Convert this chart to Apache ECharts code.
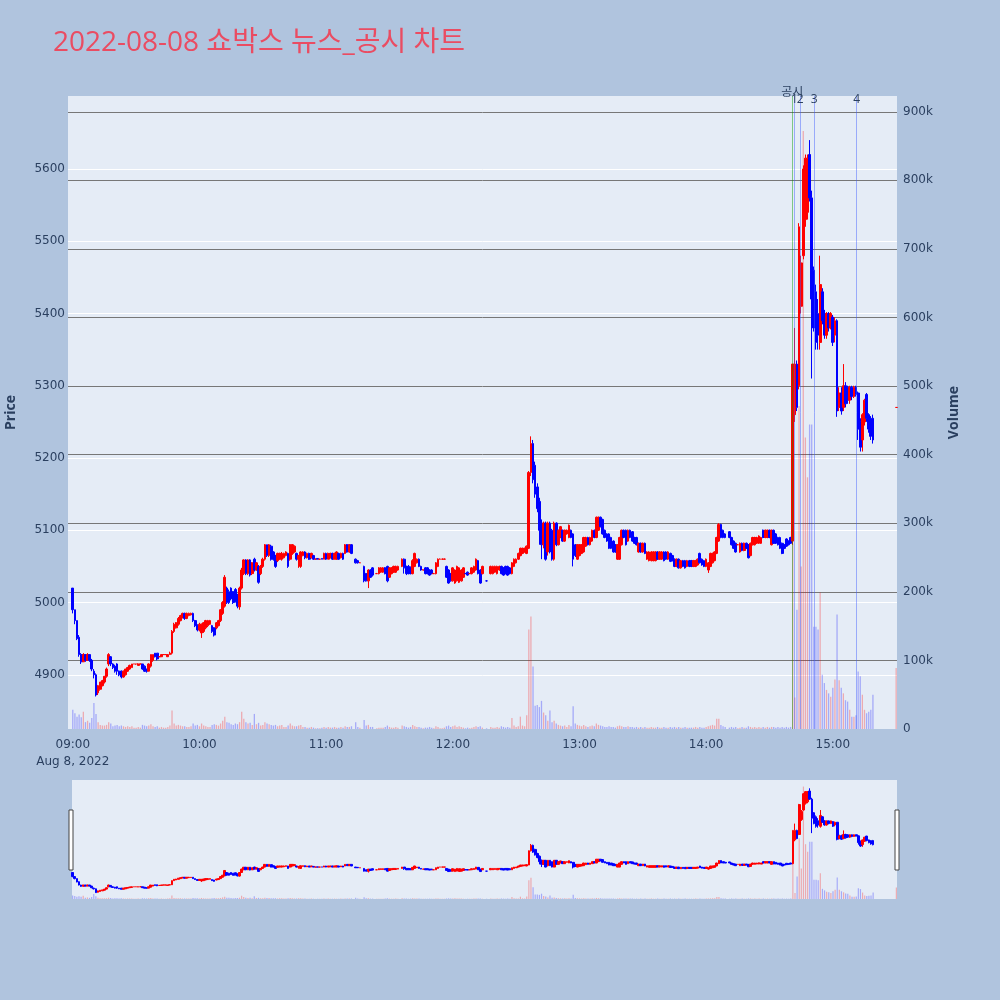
<!DOCTYPE html>
<html><head><meta charset="utf-8">
<script src="https://cdn.jsdelivr.net/npm/echarts@6/dist/echarts.min.js"></script>
<style>html,body{margin:0;padding:0;background:#b0c4de}#c{width:1000px;height:1000px}</style>
</head><body><div id="c"></div>
<script>
const chartTitle = '2022-08-08 쇼박스 뉴스_공시 차트';
// one row per minute: [open, close, low, high, volume (k shares)], null = no trade
const h09 = [
[5020,4990,4985,5020,28],[4990,4975,4970,4990,23],[4975,4950,4948,4975,18],[4952,4928,4925,4955,21],[4928,4918,4915,4930,17],
[4918,4928,4918,4930,25],[4928,4920,4918,4928,10],[4920,4928,4920,4930,12],[4928,4920,4918,4928,9],[4920,4908,4905,4922,16],
[4905,4900,4895,4908,38],[4900,4872,4870,4902,22],[4875,4885,4872,4886,10],[4880,4890,4878,4890,6],[4885,4892,4884,4893,5],
[4890,4898,4888,4898,5],[4898,4908,4896,4910,6],[4915,4928,4912,4930,10],[4925,4915,4912,4926,8],[4915,4910,4908,4916,4],
[4912,4905,4903,4914,5],[4915,4905,4900,4916,6],[4905,4900,4898,4906,4],[4905,4897,4895,4906,5],[4897,4905,4896,4906,4],
[4900,4908,4899,4908,3],[4905,4910,4904,4911,4],[4908,4913,4907,4914,3],[4910,4915,4910,4915,4],[4915,4915,4915,4915,2],
[4915,4915,4914,4915,2],[4913,4915,4913,4916,3],[4915,4915,4915,4915,2],[4915,4908,4907,4915,6],[4912,4905,4904,4913,5],
[4908,4905,4903,4908,4],[4905,4915,4905,4916,5],[4912,4928,4910,4928,7],[4920,4928,4918,4928,4],[4930,4925,4924,4930,3],
[4930,4922,4920,4930,4],[4925,4925,4925,4926,2],[4925,4928,4925,4928,3],[4928,4928,4928,4928,2],[4928,4928,4928,4928,2],
[4925,4928,4925,4928,3],[4928,4930,4928,4932,5],[4930,4960,4928,4962,27],[4960,4970,4958,4972,8],[4965,4972,4964,4973,5],
[4970,4978,4968,4980,6],[4975,4982,4974,4983,5],[4980,4985,4978,4986,4],[4985,4978,4976,4986,4],[4978,4985,4977,4986,3],
[4982,4985,4981,4986,3],[4983,4985,4982,4986,4],[4985,4975,4973,4986,8],[4975,4968,4966,4976,5],[4968,4962,4960,4970,6]
];
const h10 = [
[4962,4970,4960,4972,4],[4958,4970,4951,4971,8],[4960,4972,4958,4973,5],[4965,4975,4963,4976,4],[4968,4975,4966,4976,3],
[4970,4975,4969,4976,3],[4968,4960,4958,4969,6],[4965,4955,4953,4966,7],[4965,4972,4963,4973,6],[4968,4975,4967,4976,5],
[4975,4990,4973,4991,8],[4985,5000,4983,5002,12],[4995,5035,4993,5038,18],[5020,5000,4998,5022,10],[5015,5000,4998,5018,9],
[5020,5005,5003,5021,7],[5015,5000,4998,5016,6],[5018,5002,5000,5020,8],[5010,4995,4992,5012,7],[4994,5020,4990,5022,10],
[5020,5045,5018,5048,25],[5040,5059,5038,5060,15],[5059,5040,5038,5060,10],[5040,5059,5038,5060,8],[5059,5038,5036,5060,9],
[5040,5055,5038,5056,6],[5060,5045,5043,5062,22],[5045,5055,5044,5056,7],[5050,5028,5026,5052,9],[5040,5050,5038,5052,5],
[5050,5060,5048,5062,6],[5060,5080,5058,5081,10],[5080,5065,5063,5080,8],[5065,5080,5063,5081,7],[5078,5060,5058,5080,6],
[5070,5060,5058,5071,5],[5065,5050,5048,5066,6],[5058,5068,5056,5069,4],[5060,5068,5059,5069,5],[5060,5068,5058,5070,6],
[5062,5068,5061,5069,3],[5065,5070,5064,5071,3],[5068,5050,5048,5069,5],[5060,5080,5058,5081,8],[5068,5080,5066,5081,5],
[5070,5078,5069,5079,4],[5068,5060,5058,5069,4],[5060,5065,5048,5066,5],[5050,5070,5048,5071,6],[5065,5070,5064,5071,3],
[5070,5062,5060,5071,3],[5062,5068,5061,5069,2],[5068,5060,5059,5069,2],[5062,5068,5061,5069,3],[5065,5060,5059,5066,2],
[5060,5060,5060,5061,1],[5061,5060,5060,5061,1],[5060,5060,5060,5060,1],[5061,5060,5060,5061,2],[5060,5068,5060,5069,3]
];
const h11 = [
[5068,5060,5059,5069,2],[5060,5068,5060,5069,3],[5062,5068,5061,5069,2],[5068,5060,5059,5069,2],[5060,5068,5060,5069,3],
[5060,5070,5059,5071,2],[5068,5060,5059,5069,2],[5062,5068,5061,5069,3],[5068,5060,5059,5069,2],[5068,5080,5067,5081,4],
[5080,5070,5069,5081,3],[5070,5080,5069,5081,3],[5080,5068,5067,5081,4],null,[5060,5055,5054,5061,10],
[5058,5055,5054,5059,3],[5055,5055,5055,5056,2],null,[5050,5030,5028,5051,13],[5040,5030,5029,5041,5],
[5030,5045,5020,5046,6],[5045,5035,5034,5046,3],[5048,5038,5036,5049,3],null,[5040,5040,5040,5041,1],
[5040,5048,5039,5049,2],[5042,5048,5041,5049,2],[5042,5048,5041,5049,2],[5048,5040,5039,5049,3],[5050,5030,5028,5051,5],
[5035,5048,5034,5049,3],[5040,5048,5039,5049,2],[5042,5050,5041,5051,2],[5042,5050,5041,5051,3],[5045,5050,5044,5051,2],
null,[5050,5060,5049,5061,5],[5060,5048,5040,5061,4],[5050,5040,5038,5051,3],[5050,5040,5039,5052,2],
[5048,5040,5039,5050,3],[5040,5058,5039,5060,6],[5050,5068,5049,5069,4],[5055,5060,5054,5061,3],[5060,5050,5049,5061,3],
[5050,5045,5044,5051,2],[5045,5045,5045,5046,1],[5048,5040,5039,5049,2],[5048,5040,5039,5049,2],[5045,5038,5037,5046,3],
[5045,5040,5039,5046,2],[5040,5040,5040,5041,1],[5040,5055,5039,5056,4],[5050,5060,5049,5061,3],[5060,5060,5060,5061,1],
[5060,5060,5060,5061,1],[5060,5060,5060,5061,2],[5050,5035,5034,5051,4],[5045,5027,5026,5046,5],[5040,5030,5029,5041,3]
];
const h12 = [
[5030,5048,5029,5049,4],[5027,5045,5026,5046,5],[5030,5050,5029,5051,3],[5028,5048,5027,5049,4],[5030,5045,5029,5046,3],
[5035,5048,5034,5049,2],[5040,5040,5040,5041,1],[5042,5038,5037,5043,2],[5040,5040,5040,5041,1],[5040,5048,5039,5049,2],
[5042,5050,5041,5051,3],[5045,5060,5044,5061,4],[5058,5040,5039,5059,3],[5045,5027,5026,5046,4],[5040,5050,5039,5051,2],
null,[5030,5030,5029,5031,1],null,[5040,5050,5039,5051,3],[5040,5050,5039,5051,2],
[5042,5050,5041,5051,2],[5040,5050,5039,5051,3],[5045,5050,5044,5051,2],[5050,5040,5039,5051,4],[5048,5038,5037,5049,3],
[5050,5040,5039,5051,2],[5050,5038,5037,5051,3],[5048,5040,5039,5049,2],[5040,5055,5039,5056,16],[5050,5060,5049,5061,5],
[5055,5060,5054,5061,3],[5060,5068,5059,5069,4],[5065,5075,5064,5076,18],[5068,5075,5067,5076,5],[5070,5075,5069,5076,4],
[5068,5078,5067,5079,20],[5075,5180,5074,5182,145],[5180,5220,5175,5230,164],[5220,5170,5165,5225,91],[5190,5150,5145,5195,34],
[5160,5130,5125,5165,35],[5140,5100,5080,5145,32],[5110,5080,5060,5115,41],[5080,5110,5075,5112,24],[5110,5060,5058,5112,20],
[5070,5110,5065,5112,12],[5110,5070,5068,5112,27],[5100,5060,5058,5102,10],[5060,5110,5058,5112,12],[5110,5080,5078,5111,8],
[5080,5100,5079,5101,6],[5090,5105,5089,5106,5],[5100,5085,5084,5101,4],[5085,5100,5084,5101,5],[5095,5100,5094,5101,3],
[5090,5107,5089,5108,6],[5100,5090,5089,5101,4],[5095,5060,5050,5096,33],[5080,5065,5063,5081,8],[5060,5080,5059,5081,6]
];
const h13 = [
[5065,5080,5064,5081,5],[5068,5080,5067,5081,4],[5070,5090,5069,5091,6],[5078,5090,5077,5091,4],[5090,5080,5079,5091,3],
[5080,5090,5079,5091,4],[5085,5100,5084,5101,5],[5100,5090,5089,5101,4],[5090,5118,5089,5119,8],[5100,5118,5099,5119,6],
[5118,5105,5104,5119,5],[5115,5095,5094,5116,4],[5100,5090,5089,5101,3],[5095,5085,5084,5096,3],[5095,5075,5074,5096,4],
[5090,5075,5074,5091,3],[5085,5070,5069,5086,3],[5080,5070,5069,5081,2],[5060,5080,5059,5081,4],[5060,5090,5059,5091,5],
[5080,5100,5079,5101,4],[5100,5090,5089,5101,3],[5100,5080,5079,5101,3],[5085,5100,5084,5101,4],[5100,5090,5089,5101,3],
[5098,5085,5084,5099,3],[5090,5082,5081,5091,2],[5090,5080,5079,5091,3],[5070,5082,5069,5083,2],[5082,5070,5069,5083,3],
[5070,5082,5069,5083,2],[5082,5068,5067,5083,3],[5060,5070,5059,5071,2],[5058,5070,5057,5071,2],[5058,5070,5057,5071,3],
[5058,5070,5057,5071,2],[5058,5070,5057,5071,2],[5070,5060,5059,5071,3],[5060,5070,5059,5071,2],[5060,5070,5059,5071,2],
[5070,5058,5057,5071,3],[5070,5060,5059,5071,2],[5060,5070,5059,5071,2],[5068,5057,5056,5069,3],[5065,5058,5057,5066,2],
[5060,5050,5049,5061,3],[5050,5060,5049,5061,2],[5060,5048,5047,5061,3],[5048,5058,5047,5059,2],[5058,5050,5049,5059,2],
[5058,5048,5047,5059,3],[5050,5058,5049,5059,2],[5058,5050,5049,5059,2],[5058,5050,5049,5059,2],[5050,5058,5049,5059,2],
[5050,5058,5049,5059,3],[5052,5060,5051,5061,2],[5068,5055,5054,5069,3],[5060,5052,5051,5061,2],[5058,5050,5049,5059,2]
];
const h14 = [
[5050,5060,5049,5061,3],[5045,5055,5041,5056,4],[5050,5068,5049,5069,5],[5055,5068,5054,5069,6],[5058,5070,5057,5071,5],
[5068,5090,5067,5091,15],[5085,5108,5084,5110,15],[5108,5090,5089,5109,6],[5100,5090,5089,5101,4],[5095,5090,5089,5096,3],
null,[5098,5090,5089,5099,2],[5090,5080,5079,5091,3],[5085,5075,5074,5086,2],[5082,5070,5069,5083,3],
[5080,5080,5080,5081,1],[5070,5082,5069,5083,2],[5082,5072,5071,5083,3],[5072,5082,5071,5083,2],[5082,5075,5074,5083,2],
[5080,5062,5061,5081,4],[5065,5082,5064,5083,3],[5080,5090,5079,5091,2],[5080,5090,5079,5091,3],[5082,5090,5081,5091,2],
[5082,5092,5081,5093,3],[5082,5090,5081,5091,2],[5100,5090,5089,5101,3],[5090,5100,5089,5101,2],[5090,5100,5089,5101,3],
[5100,5090,5089,5101,2],[5080,5100,5079,5101,3],[5100,5082,5081,5101,3],[5095,5082,5081,5096,2],[5090,5080,5079,5091,3],
[5090,5075,5074,5091,2],[5082,5068,5067,5083,3],[5080,5075,5074,5081,2],[5088,5078,5077,5089,3],[5085,5080,5079,5086,2],
[5090,5082,5081,5091,3],[5085,5330,5080,5330,270],[5260,5330,5250,5380,46],[5330,5270,5265,5335,174],[5300,5520,5295,5525,471],
[5410,5470,5400,5480,237],[5480,5600,5475,5605,872],[5530,5615,5520,5620,425],[5540,5615,5530,5620,367],[5620,5560,5555,5640,444],
[5560,5420,5310,5570,444],[5460,5380,5375,5465,149],[5430,5360,5350,5440,149],[5400,5370,5350,5420,145],[5360,5440,5350,5480,199],
[5430,5390,5385,5435,79],[5400,5370,5365,5405,67],[5370,5400,5365,5402,57],[5400,5380,5375,5402,52],[5380,5400,5378,5402,47]
];
const h15 = [
[5395,5360,5355,5398,60],[5370,5390,5360,5395,72],[5390,5265,5257,5392,167],[5270,5290,5265,5298,71],[5290,5265,5260,5298,60],
[5270,5300,5265,5330,52],[5300,5275,5270,5305,42],[5298,5280,5275,5300,40],[5280,5298,5275,5300,28],[5298,5285,5280,5300,18],
[5285,5298,5283,5300,18],[5298,5288,5285,5300,20],[5290,5240,5225,5292,84],[5250,5215,5209,5255,77],[5225,5260,5209,5262,50],
[5250,5280,5245,5282,28],[5288,5255,5250,5290,23],[5260,5240,5235,5262,25],[5255,5230,5225,5258,28],[5255,5225,5220,5260,50],
null,null,null,null,null,null,null,null,null,null,
[5270,5270,5270,5270,89]
];
const hourLabels = ['09:00','10:00','11:00','12:00','13:00','14:00','15:00'];
const dateLabel = 'Aug 8, 2022';
const priceTicks = [4900,5000,5100,5200,5300,5400,5500,5600];
const volumeTicks = [0,100,200,300,400,500,600,700,800,900];
const markerTimes = ['14:40:48','14:41:48','14:44:30','14:51:12','15:11:18'];
const markerLabels = ['공시','1','2','3','4'];
const markerColors = ['rgba(0,150,0,0.45)','rgba(60,90,255,0.45)','rgba(60,90,255,0.45)','rgba(60,90,255,0.45)','rgba(60,90,255,0.45)'];

const UP = '#ff0000', DOWN = '#0000ff';
const UPV = 'rgba(255,0,0,0.28)', DOWNV = 'rgba(0,0,255,0.28)';
const TICKFONT = 'DejaVu Sans, Verdana, sans-serif';
const toMin = s => { const p = s.split(':').map(Number); return (p[0]-9)*60 + p[1] + (p[2]||0)/60; };

const candles = [], vols = [];
let prevClose = null;
[h09,h10,h11,h12,h13,h14,h15].forEach((rows, hi) => rows.forEach((r, mi) => {
  if (!r) return;
  const t = hi*60 + mi;
  candles.push([t, r[0], r[1], r[2], r[3]]);
  const up = r[1] > r[0] || (r[1] === r[0] && (prevClose === null || prevClose <= r[1]));
  vols.push({value: [t, r[4]], itemStyle: {color: up ? UPV : DOWNV}});
  prevClose = r[1];
}));
const hourVals = hourLabels.map(toMin);

const candleStyle = {color: UP, color0: DOWN, borderColor: UP, borderColor0: DOWN, borderWidth: 1};
const markLines = {
  silent: true, symbol: 'none', animation: false,
  data: markerTimes.map((t, i) => ({
    xAxis: toMin(t),
    lineStyle: {color: markerColors[i], width: 1, type: 'solid'},
    label: {show: true, position: 'end', formatter: markerLabels[i], color: '#2a3f5f', fontSize: 12,
            fontFamily: 'Open Sans, Noto Sans CJK KR', distance: 0, offset: i === 0 ? [0, 3] : [0, 10]}
  }))
};

const chart = echarts.init(document.getElementById('c'), null, {renderer: 'canvas'});
chart.setOption({
  backgroundColor: '#b0c4de',
  animation: false,
  textStyle: {fontFamily: 'Open Sans, Noto Sans CJK KR, sans-serif'},
  title: {text: chartTitle, left: 48, top: 24,
          textStyle: {fontSize: 28, fontWeight: 'normal', color: '#ea4c62', fontFamily: 'Open Sans, Noto Sans CJK KR'}},
  grid: [
    {left: 68, right: 103, top: 96, bottom: 271, show: true, backgroundColor: '#e5ecf6', borderWidth: 0,
     containLabel: false, outerBoundsMode: 'none'},
    {left: 72, right: 103, top: 780, height: 119, show: true, backgroundColor: '#e5ecf6', borderWidth: 0,
     containLabel: false, outerBoundsMode: 'none'}
  ],
  xAxis: [
    {type: 'value', gridIndex: 0, min: -2.27, max: 390.4, splitLine: {show: false},
     axisLine: {show: false}, axisTick: {show: false},
     axisLabel: {customValues: hourVals, color: '#2a3f5f', fontSize: 12, fontFamily: TICKFONT, margin: 7, lineHeight: 17,
       formatter: v => { const i = hourVals.indexOf(v); return i === 0 ? hourLabels[0] + '\n' + dateLabel : (i > 0 ? hourLabels[i] : ''); }}},
    {type: 'value', gridIndex: 1, min: -0.3, max: 390.3, show: false}
  ],
  yAxis: [
    {type: 'value', gridIndex: 0, position: 'left', min: 4825, max: 5701,
     axisLine: {show: false}, axisTick: {show: false, customValues: priceTicks},
     axisLabel: {customValues: priceTicks, color: '#2a3f5f', fontSize: 12, fontFamily: TICKFONT, margin: 3, formatter: v => String(v)},
     splitLine: {show: true, lineStyle: {color: '#ffffff', width: 1}},
     name: 'Price', nameLocation: 'middle', nameGap: 50, nameRotate: 90,
     nameTextStyle: {fontWeight: 'bold', fontSize: 14, color: '#2a3f5f'}},
    {type: 'value', gridIndex: 0, position: 'right', min: 0, max: 923,
     axisLine: {show: false}, axisTick: {show: false, customValues: volumeTicks},
     axisLabel: {customValues: volumeTicks, color: '#2a3f5f', fontSize: 12, fontFamily: TICKFONT, margin: 6, formatter: v => v === 0 ? '0' : v + 'k'},
     splitLine: {show: true, showMinLine: false, lineStyle: {color: '#777777', width: 1}},
     name: 'Volume', nameLocation: 'middle', nameGap: 50, nameRotate: 90,
     nameTextStyle: {fontWeight: 'bold', fontSize: 14, color: '#2a3f5f'}},
    {type: 'value', gridIndex: 1, min: 4825, max: 5701, show: false, splitLine: {show: false}},
    {type: 'value', gridIndex: 1, min: 0, max: 923, show: false, splitLine: {show: false}}
  ],
  series: [
    {type: 'bar', xAxisIndex: 0, yAxisIndex: 1, data: vols, barWidth: 1.3, silent: true},
    {type: 'candlestick', xAxisIndex: 0, yAxisIndex: 0, data: candles, encode: {x: 0, y: [1,2,3,4]},
     barWidth: 2.2, itemStyle: candleStyle, markLine: markLines},
    {type: 'bar', xAxisIndex: 1, yAxisIndex: 3, data: vols, barWidth: 1.2, silent: true},
    {type: 'candlestick', xAxisIndex: 1, yAxisIndex: 2, data: candles, encode: {x: 0, y: [1,2,3,4]},
     barWidth: 2.2, itemStyle: candleStyle}
  ],
  graphic: [
    {type: 'rect', shape: {x: 69, y: 810, width: 4, height: 60}, style: {fill: '#ffffff', stroke: '#444', lineWidth: 1}, z: 100},
    {type: 'rect', shape: {x: 895, y: 810, width: 4, height: 60}, style: {fill: '#ffffff', stroke: '#444', lineWidth: 1}, z: 100}
  ]
});
</script></body></html>
